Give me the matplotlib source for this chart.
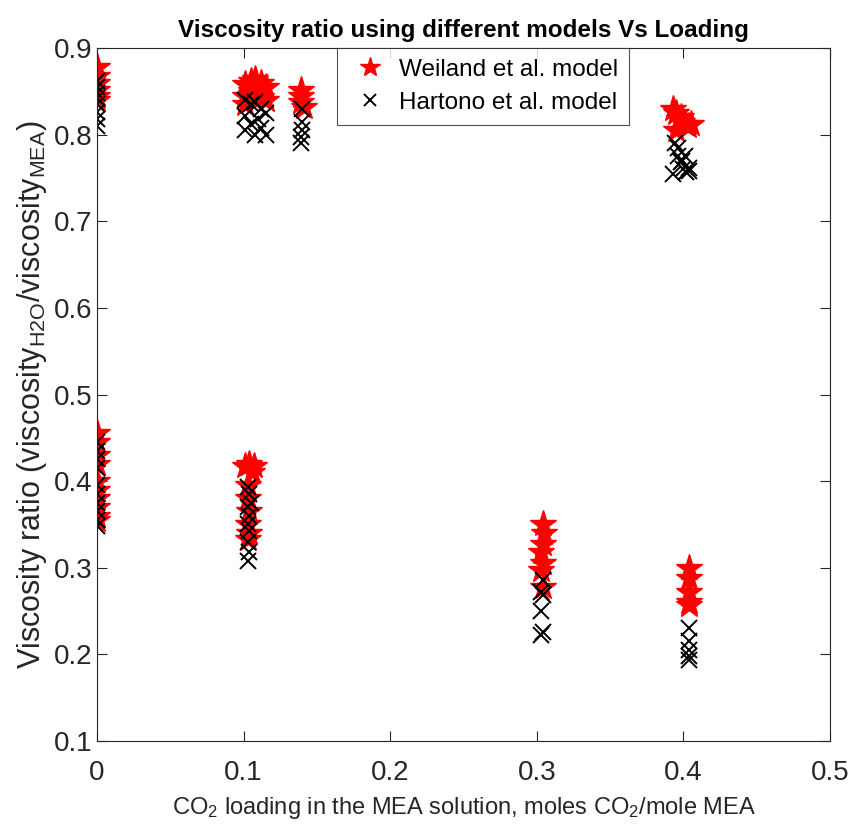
import matplotlib
matplotlib.use("Agg")
import matplotlib.pyplot as plt

plt.rcParams['font.family'] = ['Liberation Sans', 'DejaVu Sans']
plt.rcParams['mathtext.fontset'] = 'custom'
plt.rcParams['mathtext.rm'] = 'Liberation Sans'
plt.rcParams['mathtext.it'] = 'Liberation Sans'

# Weiland et al. model (loading, viscosity ratio)
weiland_x = [0, 0, 0, 0, 0, 0,
             0.101, 0.101, 0.101, 0.105, 0.105, 0.108, 0.108, 0.112, 0.112, 0.115, 0.115,
             0.139, 0.139, 0.139, 0.141,
             0, 0, 0, 0, 0, 0, 0, 0, 0, 0,
             0.101, 0.104, 0.107, 0.106, 0.103, 0.103, 0.104, 0.103, 0.104, 0.103,
             0.304, 0.305, 0.304, 0.303, 0.304, 0.303, 0.304,
             0.393, 0.395, 0.397, 0.399, 0.401, 0.403, 0.405, 0.395, 0.398,
             0.404, 0.404, 0.404, 0.404, 0.404]
weiland_y = [0.878, 0.868, 0.860, 0.852, 0.845, 0.840,
             0.858, 0.845, 0.835, 0.862, 0.850, 0.864, 0.848, 0.860, 0.843, 0.855, 0.840,
             0.852, 0.845, 0.838, 0.832,
             0.455, 0.445, 0.430, 0.420, 0.400, 0.390, 0.380, 0.370, 0.360, 0.355,
             0.418, 0.420, 0.418, 0.410, 0.395, 0.380, 0.365, 0.350, 0.340, 0.333,
             0.350, 0.340, 0.328, 0.318, 0.305, 0.298, 0.278,
             0.830, 0.825, 0.818, 0.815, 0.812, 0.810, 0.812, 0.805, 0.820,
             0.300, 0.288, 0.272, 0.260, 0.257]

# Hartono et al. model
hartono_x = [0, 0, 0, 0, 0, 0, 0, 0,
             0.101, 0.101, 0.101, 0.105, 0.105, 0.108, 0.108, 0.112, 0.112, 0.115, 0.115, 0.110,
             0.140, 0.140, 0.140, 0.139, 0.139,
             0, 0, 0, 0, 0, 0, 0, 0, 0, 0,
             0.103, 0.104, 0.103, 0.104, 0.103, 0.104, 0.103, 0.104, 0.103, 0.105,
             0.304, 0.303, 0.304, 0.303, 0.304, 0.303,
             0.394, 0.396, 0.398, 0.400, 0.402, 0.404, 0.393, 0.396, 0.399, 0.401, 0.404,
             0.404, 0.404, 0.404, 0.404, 0.404]
hartono_y = [0.862, 0.855, 0.848, 0.842, 0.835, 0.826, 0.818, 0.810,
             0.840, 0.822, 0.805, 0.835, 0.812, 0.838, 0.800, 0.830, 0.808, 0.825, 0.800, 0.818,
             0.830, 0.815, 0.805, 0.797, 0.790,
             0.445, 0.435, 0.425, 0.415, 0.395, 0.385, 0.375, 0.365, 0.355, 0.348,
             0.393, 0.385, 0.370, 0.360, 0.350, 0.342, 0.330, 0.318, 0.308, 0.375,
             0.286, 0.272, 0.268, 0.250, 0.226, 0.222,
             0.790, 0.775, 0.768, 0.760, 0.757, 0.758, 0.755, 0.785, 0.770, 0.775, 0.762,
             0.230, 0.215, 0.205, 0.198, 0.194]

fig = plt.figure(figsize=(8.54, 8.33), dpi=100)
ax = fig.add_axes([0.1136, 0.1104, 0.8584, 0.832])

ax.plot(weiland_x, weiland_y, linestyle='none', marker='*', color='red',
        markersize=20, label='Weiland et al. model')
ax.plot(hartono_x, hartono_y, linestyle='none', marker='x', color='black',
        markersize=12, markeredgewidth=1.4, label='Hartono et al. model')

ax.set_xlim(0, 0.5)
ax.set_ylim(0.1, 0.9)
ax.set_xticks([0, 0.1, 0.2, 0.3, 0.4, 0.5])
ax.set_xticklabels(['0', '0.1', '0.2', '0.3', '0.4', '0.5'])
ax.set_yticks([0.1, 0.2, 0.3, 0.4, 0.5, 0.6, 0.7, 0.8, 0.9])
ax.tick_params(direction='in', top=True, right=True, labelsize=20,
               length=7, width=0.8, colors='#262626', labelcolor='#262626')
ax.tick_params(axis='x', pad=14)
for s in ax.spines.values():
    s.set_color('#262626')
    s.set_linewidth(0.8)

ax.set_title('Viscosity ratio using different models Vs Loading',
             fontsize=17.5, fontweight='bold',
             family=['Liberation Sans Narrow', 'Liberation Sans'], pad=8)
ax.set_xlabel('CO$_2$ loading in the MEA solution, moles CO$_2$/mole MEA',
              fontsize=17, color='#262626', labelpad=6)
ax.set_ylabel('Viscosity ratio (viscosity$_{\\mathrm{H2O}}$/viscosity$_{\\mathrm{MEA}}$)',
              fontsize=22, color='#262626', labelpad=3)

leg = ax.legend(loc='upper left', bbox_to_anchor=(0.327, 1.0), fontsize=17.5,
                frameon=True, fancybox=False, edgecolor='#262626',
                borderaxespad=0, handlelength=1.8, handletextpad=0.3,
                borderpad=0.45, labelspacing=0.45, markerscale=0.75)
leg.get_frame().set_linewidth(0.8)

fig.savefig('out.png', dpi=100)
